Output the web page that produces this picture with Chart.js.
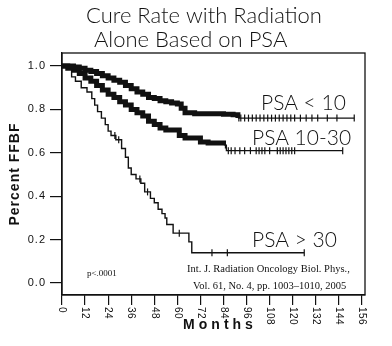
<!DOCTYPE html>
<html>
<head>
<meta charset="utf-8">
<script src="https://cdn.jsdelivr.net/npm/chart.js@4.4.1/dist/chart.umd.min.js"></script>
<style>
  html, body { margin: 0; padding: 0; background: #fff; }
  #wrap { width: 392px; height: 346px; position: relative; }
</style>
</head>
<body>
<div id="wrap"><canvas id="km"></canvas></div>
<script>
// Kaplan-Meier curves (months, fraction free of failure)
var lowTimes = [0, 3, 6, 9, 12, 15, 18, 21, 24, 27, 30, 33, 36, 39, 42, 45, 48, 51, 54, 57, 60, 62, 64, 69, 76, 84, 89, 91.5, 152];
var lowSurv  = [1.0, 1.0, 0.995, 0.99, 0.98, 0.975, 0.965, 0.955, 0.945, 0.935, 0.925, 0.91, 0.895, 0.88, 0.87, 0.855, 0.85, 0.84, 0.835, 0.83, 0.825, 0.805, 0.785, 0.78, 0.78, 0.778, 0.775, 0.76, 0.76];

var midTimes = [0, 3, 6, 9, 12, 15, 18, 21, 24, 27, 30, 33, 36, 39, 42, 45, 48, 51, 54, 58, 61, 64, 72, 76, 84, 85.5, 146];
var midSurv  = [1.0, 0.99, 0.98, 0.965, 0.945, 0.93, 0.91, 0.89, 0.87, 0.855, 0.835, 0.82, 0.80, 0.785, 0.77, 0.745, 0.73, 0.715, 0.705, 0.705, 0.68, 0.668, 0.65, 0.645, 0.636, 0.61, 0.61];

var highTimes = [0, 5, 7, 10, 13, 15.5, 17, 18.5, 20.5, 22.5, 24, 25.5, 28, 31, 33, 34.5, 36, 38.5, 41, 43, 46, 48, 50, 52, 53.6, 54.5, 57.8, 66, 67.5, 126];
var highSurv  = [1.0, 0.95, 0.93, 0.90, 0.88, 0.85, 0.82, 0.79, 0.76, 0.73, 0.70, 0.68, 0.66, 0.62, 0.58, 0.53, 0.50, 0.48, 0.46, 0.42, 0.39, 0.37, 0.34, 0.32, 0.30, 0.27, 0.23, 0.19, 0.14, 0.14];

// censored observations (months) drawn as small vertical ticks
var lowCensor  = [92, 93, 95, 97, 99, 101, 103, 105, 107, 109, 111, 113, 115, 117, 119, 121, 124, 127, 130, 133, 138, 143, 152];
var midCensor  = [85, 86.5, 88, 90, 92.5, 95, 98, 101, 102.5, 104, 105.5, 108, 112, 113.5, 115, 116.5, 118, 119.5, 121, 146];
var highCensor = [27.5, 29.5, 40.5, 44.5, 61, 78, 86, 126];

// the heavy part of each curve is a solid band of censor marks
var lowDenseEnd = 91.5;
var midDenseEnd = 84;

var xTicks = [0, 12, 24, 36, 48, 60, 72, 84, 96, 108, 120, 132, 144, 156];
var yTicks = [0.0, 0.2, 0.4, 0.6, 0.8, 1.0];

function pts(t, s) {
  return t.map(function (v, i) { return { x: v, y: s[i] }; });
}
function survAt(t, s, m) {
  var v = s[0];
  for (var i = 0; i < t.length; i++) { if (t[i] <= m) v = s[i]; }
  return v;
}
function censorPts(c, t, s) {
  return c.map(function (m) { return { x: m, y: survAt(t, s, m) }; });
}

function curve(data, denseEnd, width) {
  return {
    type: 'line',
    data: data,
    stepped: true,
    borderColor: '#111',
    borderWidth: width,
    pointRadius: 0,
    fill: false,
    segment: {
      borderWidth: function (ctx) {
        return ctx.p0.parsed.x < denseEnd ? 5 : width;
      }
    }
  };
}
function censor(data) {
  return {
    type: 'scatter',
    data: data,
    pointStyle: 'line',
    rotation: 90,
    pointRadius: 3.5,
    borderColor: '#111',
    borderWidth: 1.2
  };
}

// box frame, tick labels and all annotations
var textPlugin = {
  id: 'texts',
  afterDraw: function (chart) {
    var ctx = chart.ctx, a = chart.chartArea;
    var xs = chart.scales.x, ys = chart.scales.y;
    ctx.save();
    ctx.strokeStyle = '#111';
    ctx.lineWidth = 1.3;
    ctx.strokeRect(a.left, a.top, a.right - a.left, a.bottom - a.top);

    ctx.fillStyle = '#111';
    // y tick labels
    ctx.font = '11px "Liberation Sans", Arial, sans-serif';
    ctx.letterSpacing = '1px';
    ctx.textAlign = 'right';
    ctx.textBaseline = 'middle';
    ys.ticks.forEach(function (t) {
      ctx.fillText(t.value.toFixed(1), 46, ys.getPixelForValue(t.value));
    });
    // x tick labels, turned clockwise
    ctx.font = '10px "Liberation Sans", Arial, sans-serif';
    ctx.letterSpacing = '0.5px';
    ctx.textAlign = 'left';
    xs.ticks.forEach(function (t) {
      ctx.save();
      ctx.translate(xs.getPixelForValue(t.value), a.bottom + 12);
      ctx.rotate(Math.PI / 2);
      ctx.fillText(String(t.value), 0, 0);
      ctx.restore();
    });
    // axis titles
    ctx.font = 'bold 14px "Liberation Sans", Arial, sans-serif';
    ctx.letterSpacing = '1px';
    ctx.textAlign = 'center';
    ctx.save();
    ctx.translate(15, (a.top + a.bottom) / 2);
    ctx.rotate(-Math.PI / 2);
    ctx.fillText('Percent FFBF', 0, 0);
    ctx.restore();
    ctx.letterSpacing = '4px';
    ctx.fillText('Months', 220, 325);

    // title
    ctx.letterSpacing = '0px';
    ctx.textAlign = 'left';
    ctx.textBaseline = 'alphabetic';
    ctx.font = '300 22px Lato, "Open Sans", sans-serif';
    ctx.fillText('Cure Rate with Radiation', 86, 23);
    ctx.fillText('Alone Based on PSA', 94, 47);

    // curve labels
    ctx.font = '300 21px Lato, "Open Sans", sans-serif';
    ctx.fillText('PSA < 10', 261, 110);
    ctx.fillText('PSA 10-30', 252, 145);
    ctx.fillText('PSA > 30', 252, 247);

    // notes
    ctx.font = '9px "Liberation Serif", "Times New Roman", serif';
    ctx.fillText('p<.0001', 87, 276);
    ctx.font = '10.5px "Liberation Serif", "Times New Roman", serif';
    ctx.fillText('Int. J. Radiation Oncology Biol. Phys.,', 187, 272);
    ctx.fillText('Vol. 61, No. 4, pp. 1003\u20131010, 2005', 193, 289);
    ctx.restore();
  }
};

new Chart(document.getElementById('km'), {
  data: {
    datasets: [
      curve(pts(lowTimes, lowSurv), lowDenseEnd, 1.3),
      curve(pts(midTimes, midSurv), midDenseEnd, 1.3),
      curve(pts(highTimes, highSurv), 0, 1.4),
      censor(censorPts(lowCensor, lowTimes, lowSurv)),
      censor(censorPts(midCensor, midTimes, midSurv)),
      censor(censorPts(highCensor, highTimes, highSurv))
    ]
  },
  options: {
    responsive: true,
    maintainAspectRatio: false,
    animation: false,
    layout: { padding: { top: 53, right: 27, left: 0, bottom: 0 } },
    plugins: { legend: { display: false }, tooltip: { enabled: false }, title: { display: false } },
    scales: {
      x: {
        type: 'linear',
        min: 0,
        max: 157.6,
        afterBuildTicks: function (s) { s.ticks = xTicks.map(function (v) { return { value: v }; }); },
        afterFit: function (s) { s.height = 51; },
        ticks: { display: false },
        grid: { drawOnChartArea: false, drawTicks: true, tickLength: 10, color: '#111', lineWidth: 1.2 },
        border: { display: true, color: '#111', width: 1.3 }
      },
      y: {
        type: 'linear',
        min: -0.055,
        max: 1.06,
        afterBuildTicks: function (s) { s.ticks = yTicks.map(function (v) { return { value: v }; }); },
        afterFit: function (s) { s.width = 62; },
        ticks: { display: false },
        grid: { drawOnChartArea: false, drawTicks: true, tickLength: 12, color: '#111', lineWidth: 1.2 },
        border: { display: true, color: '#111', width: 1.3 }
      }
    }
  },
  plugins: [textPlugin]
});
</script>
</body>
</html>
